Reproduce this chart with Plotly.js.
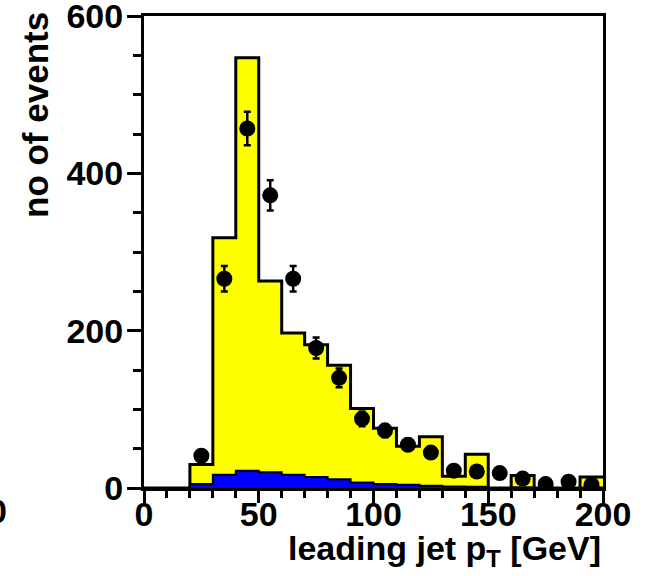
<!DOCTYPE html>
<html>
<head>
<meta charset="utf-8">
<script src="https://cdn.plot.ly/plotly-3.0.1.min.js"></script>
<style>html,body{margin:0;padding:0;background:#fff;}#chart{width:648px;height:576px;}</style>
</head>
<body>
<div id="chart"></div>
<script>
// bin edges of the leading-jet pT histogram (GeV)
const binEdges = [0,10,20,30,40,50,60,70,80,90,100,110,120,130,140,150,160,170,180,190,200];
// total simulation (yellow), per bin
const totalMC = [0,0,30,318,547,263,197,182,156,101,76,53,65,15,43,0,16,0,0,14];
// background component (blue), per bin
const background = [0,0,5,17,22,20,17,14,11,7,5,4,3,2,1.5,0,0.8,0,0,0.5];
// data points
const dataX = [25,35,45,55,65,75,85,95,105,115,125,135,145,155,165,175,185,195];
const dataY = [41,266,457,372,266,178,140,88,73,55,45,22,21,19,12,5,8,4];
const dataErr = [6.4,16.3,21.4,19.3,16.3,13.3,11.8,9.4,8.5,7.4,6.7,4.7,4.6,4.4,3.5,2.2,2.8,2.0];

const xTicks = [0,50,100,150,200];
const yTicks = [0,200,400,600];

function stepY(vals){ return vals.concat([vals[vals.length-1]]); }

const FONT = 'Liberation Sans, Arial, sans-serif';

const traces = [
  {
    x: binEdges, y: stepY(totalMC), type: 'scatter', mode: 'lines',
    line: {shape: 'hv', color: '#000', width: 3},
    fill: 'tozeroy', fillcolor: '#ffff00', hoverinfo: 'skip', showlegend: false
  },
  {
    x: binEdges, y: stepY(background), type: 'scatter', mode: 'lines',
    line: {shape: 'hv', color: '#000', width: 2},
    fill: 'tozeroy', fillcolor: '#0000ff', hoverinfo: 'skip', showlegend: false
  },
  {
    x: dataX, y: dataY, type: 'scatter', mode: 'markers',
    marker: {color: '#000', size: 16, symbol: 'circle'},
    error_y: {type: 'data', array: dataErr, visible: true, color: '#000', thickness: 2.5, width: 3.5},
    showlegend: false
  }
];

const axisCommon = {
  showline: true, linecolor: '#000', linewidth: 3, mirror: true,
  showgrid: false, zeroline: false,
  ticks: 'outside', tickcolor: '#000', tickwidth: 3,
  ticklabeloverflow: 'allow',
  tickfont: {family: FONT, size: 34, color: '#000', weight: 'bold'}
};

const layout = {
  width: 648, height: 576,
  margin: {l: 144, r: 45, t: 16, b: 88, pad: 0},
  paper_bgcolor: '#fff', plot_bgcolor: '#fff',
  showlegend: false,
  xaxis: Object.assign({}, axisCommon, {
    range: [0, 200], tickmode: 'array', tickvals: xTicks, ticktext: xTicks.map(String), ticklen: 12,
    ticklabelstandoff: -18,
    minor: {dtick: 10, tick0: 0, ticklen: 7, tickwidth: 3, tickcolor: '#000', ticks: 'outside'}
  }),
  yaxis: Object.assign({}, axisCommon, {
    range: [0, 600], tickmode: 'array', tickvals: yTicks, ticktext: yTicks.map(String), ticklen: 14,
    ticklabelstandoff: -3,
    minor: {dtick: 50, tick0: 0, ticklen: 8, tickwidth: 3, tickcolor: '#000', ticks: 'outside'}
  }),
  annotations: [
    {
      text: 'leading jet p<sub>T</sub> [GeV]', xref: 'paper', yref: 'paper',
      x: 1, xanchor: 'right', y: -0.082, yanchor: 'top', showarrow: false,
      font: {family: FONT, size: 34, color: '#000', weight: 'bold'}
    },
    {
      text: 'no of events', xref: 'paper', yref: 'paper', textangle: -90,
      x: -0.235, xanchor: 'center', y: 1.013, yanchor: 'top', showarrow: false,
      font: {family: FONT, size: 35, color: '#000', weight: 'bold'}
    },
    {
      text: '0', xref: 'paper', yref: 'paper',
      x: (9 - 144) / 459, xanchor: 'right', y: -0.005, yanchor: 'top', showarrow: false,
      font: {family: FONT, size: 34, color: '#000', weight: 'bold'}
    }
  ]
};

Plotly.newPlot('chart', traces, layout, {staticPlot: true, displayModeBar: false});
</script>
</body>
</html>
